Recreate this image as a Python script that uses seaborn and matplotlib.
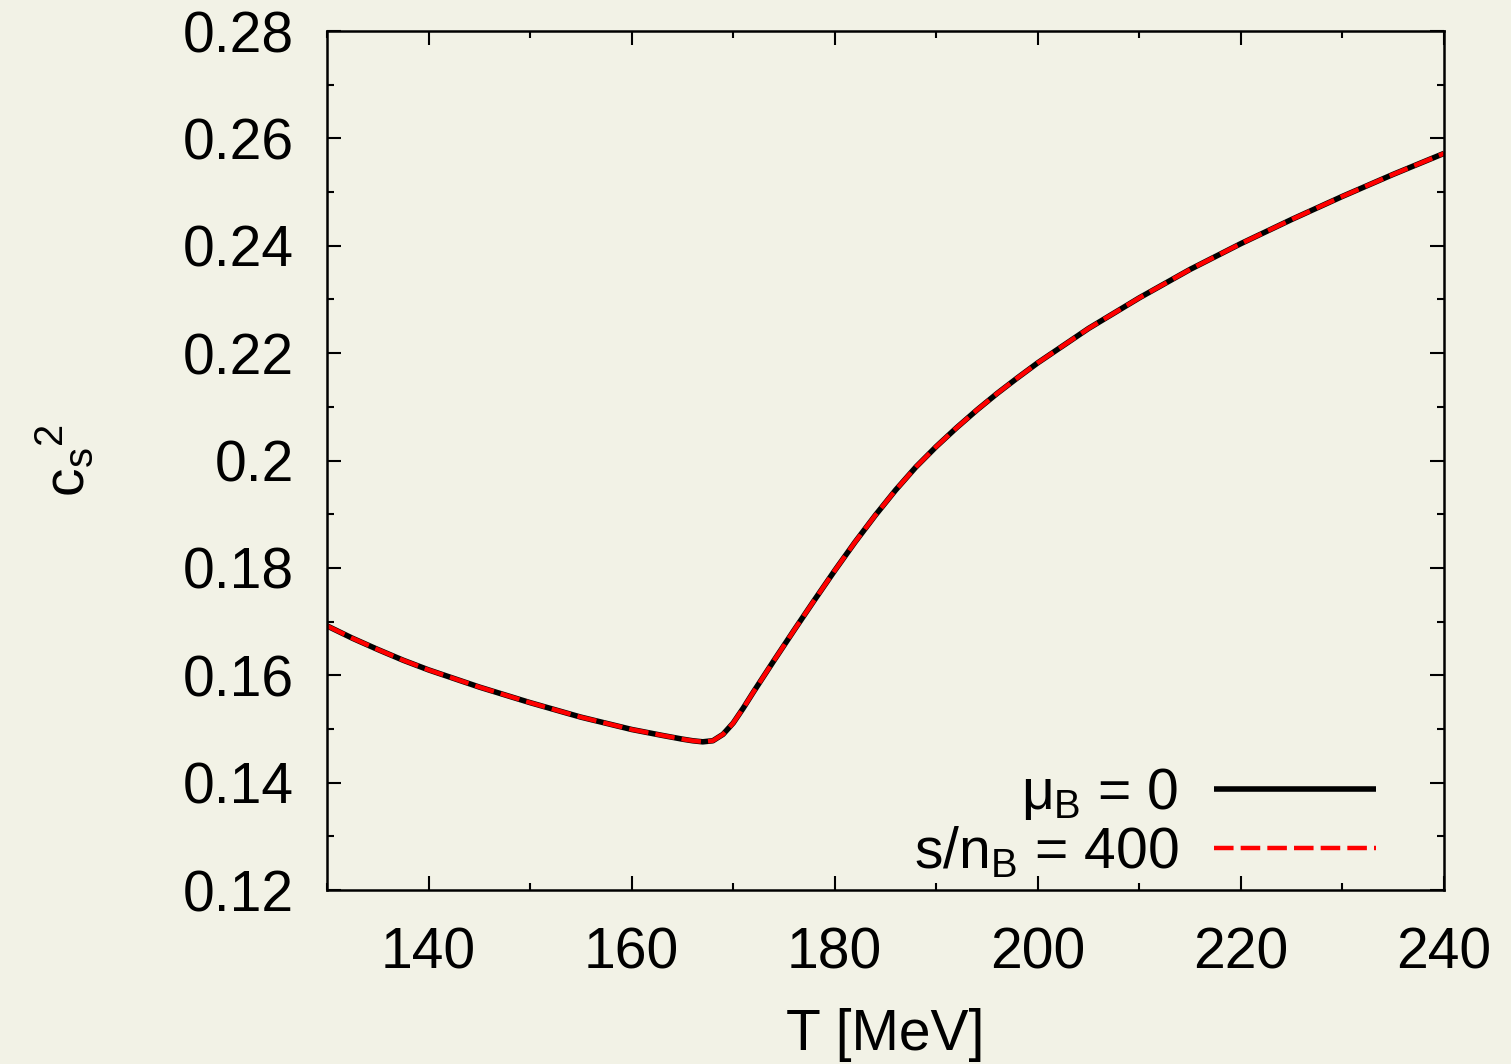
import matplotlib
matplotlib.use("Agg")
import matplotlib.pyplot as plt
from matplotlib.ticker import MultipleLocator, FuncFormatter
import seaborn as sns
import pandas as pd

# Temperature grid [MeV]
T = [130, 132.5, 135, 137.5, 140, 145, 150, 155, 160, 163, 165, 166, 167,
     168, 169, 170, 171, 172, 174, 176, 178, 180, 182, 184, 186, 188, 190,
     192, 194, 196, 198, 200, 205, 210, 215, 220, 225, 230, 235, 240]

# squared speed of sound at vanishing baryon chemical potential
cs2_mu0 = [0.1692, 0.1669, 0.1648, 0.1628, 0.1610, 0.1578, 0.1549, 0.1522,
           0.1499, 0.1488, 0.1481, 0.1478, 0.1476, 0.1478, 0.1490, 0.1511,
           0.1539, 0.1569, 0.1627, 0.1684, 0.1740, 0.1795, 0.1848, 0.1898,
           0.1945, 0.1988, 0.2026, 0.2061, 0.2094, 0.2125, 0.2154, 0.2182,
           0.2246, 0.2303, 0.2356, 0.2404, 0.2449, 0.2492, 0.2533, 0.2572]

# squared speed of sound along the isentrope s/n_B = 400
cs2_snb400 = [0.1692, 0.1669, 0.1648, 0.1628, 0.1610, 0.1578, 0.1549, 0.1522,
              0.1499, 0.1488, 0.1481, 0.1478, 0.1476, 0.1478, 0.1490, 0.1511,
              0.1539, 0.1569, 0.1627, 0.1684, 0.1740, 0.1795, 0.1848, 0.1898,
              0.1945, 0.1988, 0.2026, 0.2061, 0.2094, 0.2125, 0.2154, 0.2182,
              0.2246, 0.2303, 0.2356, 0.2404, 0.2449, 0.2492, 0.2533, 0.2572]

labels = [r"$\mu_\mathrm{B}$ = 0", r"s/n$_\mathrm{B}$ = 400"]

bg = "#F2F2E6"
sns.set_theme(style="ticks")
plt.rcParams.update({
    "font.family": ["Liberation Sans", "DejaVu Sans"],
    "mathtext.fontset": "custom",
    "mathtext.rm": "Liberation Sans",
    "mathtext.it": "Liberation Sans",
    "mathtext.bf": "Liberation Sans:bold",
    "mathtext.sf": "Liberation Sans",
    "text.color": "black",
    "axes.labelcolor": "black",
    "figure.facecolor": bg,
    "axes.facecolor": bg,
    "savefig.facecolor": bg,
})

df = pd.DataFrame({"T": T, "mu0": cs2_mu0, "snb400": cs2_snb400})

fig = plt.figure(figsize=(15.11, 10.64), dpi=100)
ax = fig.add_axes([327 / 1511, 1 - 890 / 1064, (1444 - 327) / 1511, (890 - 31) / 1064])

sns.lineplot(data=df, x="T", y="mu0", ax=ax, color="black", lw=4.0,
             label=labels[0])
sns.lineplot(data=df, x="T", y="snb400", ax=ax, color="#FF0000", lw=3.2,
             label=labels[1], dashes=(4.4, 1.6))
for ln in ax.get_lines():
    ln.set_solid_capstyle("butt")
    ln.set_dash_capstyle("butt")
    ln.set_solid_joinstyle("round")
    ln.set_dash_joinstyle("round")

ax.set_xlim(130, 240)
ax.set_ylim(0.12, 0.28)
ax.xaxis.set_major_locator(MultipleLocator(20))
ax.xaxis.set_minor_locator(MultipleLocator(10))
ax.yaxis.set_major_locator(MultipleLocator(0.02))
ax.yaxis.set_minor_locator(MultipleLocator(0.01))
ax.yaxis.set_major_formatter(FuncFormatter(lambda v, p: "%g" % round(v, 4)))

ax.tick_params(which="both", direction="in", top=True, right=True,
               color="black", width=1.5, labelsize=41, labelcolor="black")
ax.tick_params(which="major", length=10)
ax.tick_params(which="minor", length=5)
ax.tick_params(axis="y", which="major", pad=24)
ax.tick_params(axis="x", which="major", pad=26)
for s in ax.spines.values():
    s.set_linewidth(1.8)
    s.set_color("black")

ax.set_xlabel("T [MeV]", fontsize=41, color="black", labelpad=20)
ax.set_ylabel(r"c$_\mathrm{s}{}^\mathrm{2}$", fontsize=41, color="black",
              labelpad=62)

leg = ax.legend(loc="lower right", bbox_to_anchor=(0.97, -0.028),
                frameon=False, markerfirst=False, fontsize=41,
                handlelength=2.85, handletextpad=0.62, labelspacing=0.05,
                borderaxespad=0.2, labelcolor="black")

fig.savefig("out.png", dpi=100)
